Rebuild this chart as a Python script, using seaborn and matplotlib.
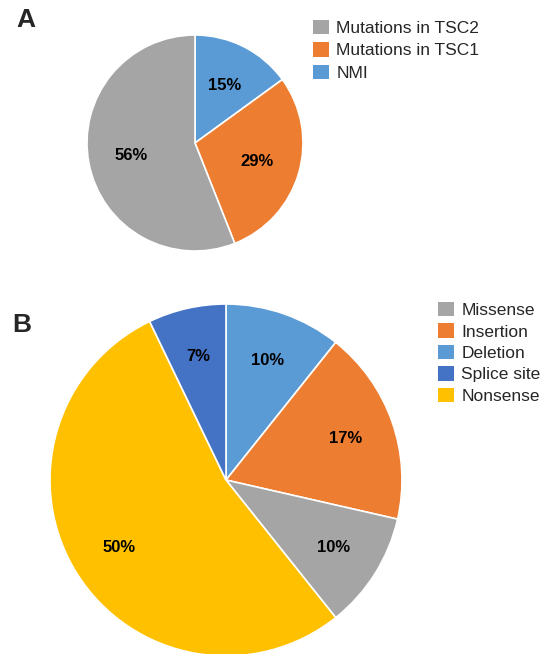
import seaborn as sns
import matplotlib.pyplot as plt
from matplotlib.patches import Patch


sns.set_theme(style="white")
plt.rcParams['font.family'] = ['Liberation Sans', 'DejaVu Sans']

# panel A, clockwise from 12 o'clock
a_names = ["NMI", "Mutations in TSC1", "Mutations in TSC2"]
a_values = [15, 29, 56]
a_labels = ["15%", "29%", "56%"]
a_legend_order = ["Mutations in TSC2", "Mutations in TSC1", "NMI"]

# panel B, clockwise from 12 o'clock
b_names = ["Deletion", "Insertion", "Missense", "Nonsense", "Splice site"]
b_values = [3, 5, 3, 15, 2]
b_labels = ["10%", "17%", "10%", "50%", "7%"]
b_legend_order = ["Missense", "Insertion", "Deletion", "Splice site", "Nonsense"]

colors = {
    "Mutations in TSC2": "#A5A5A5",
    "Mutations in TSC1": "#ED7D31",
    "NMI": "#5B9BD5",
    "Missense": "#A5A5A5",
    "Insertion": "#ED7D31",
    "Deletion": "#5B9BD5",
    "Splice site": "#4472C4",
    "Nonsense": "#FFC000",
}

W, H = 541, 654
fig = plt.figure(figsize=(W / 100, H / 100), dpi=100)


def draw_pie(rect, names, values, labels, legend_order, legend_anchor, spacing, pctdist):
    ax = fig.add_axes(rect)
    it = iter(labels)
    ax.pie(values, colors=[colors[n] for n in names], startangle=90, counterclock=False,
           autopct=lambda p: next(it), pctdistance=pctdist, radius=1,
           wedgeprops=dict(edgecolor="white", linewidth=1.2),
           textprops=dict(fontsize=12, fontweight="bold", color="black"))
    ax.set_xlim(-1, 1)
    ax.set_ylim(-1, 1)
    ax.set_aspect("equal")
    ax.axis("off")
    handles = [Patch(facecolor=colors[n], edgecolor="none", label=n) for n in legend_order]
    fig.legend(handles=handles, loc="upper left", bbox_to_anchor=legend_anchor,
               frameon=False, fontsize=12.5, handlelength=0.9, handleheight=0.9,
               handletextpad=0.45, labelspacing=spacing, borderaxespad=0, borderpad=0)
    return ax


def rect_for(cx, cy, r):
    return [(cx - r) / W, 1 - (cy + r) / H, 2 * r / W, 2 * r / H]


draw_pie(rect_for(195, 143, 108), a_names, a_values, a_labels, a_legend_order,
         (313 / W, 1 - 20 / H), 0.35, 0.6)
draw_pie(rect_for(226, 480, 176), b_names, b_values, b_labels, b_legend_order,
         (438 / W, 1 - 302 / H), 0.3, 0.72)

fig.text(16 / W, 1 - 20 / H, "A", fontsize=19, fontweight="bold", va="center", ha="left")
fig.text(12 / W, 1 - 325 / H, "B", fontsize=19, fontweight="bold", va="center", ha="left")

fig.savefig("out.png", dpi=100, facecolor="white")
